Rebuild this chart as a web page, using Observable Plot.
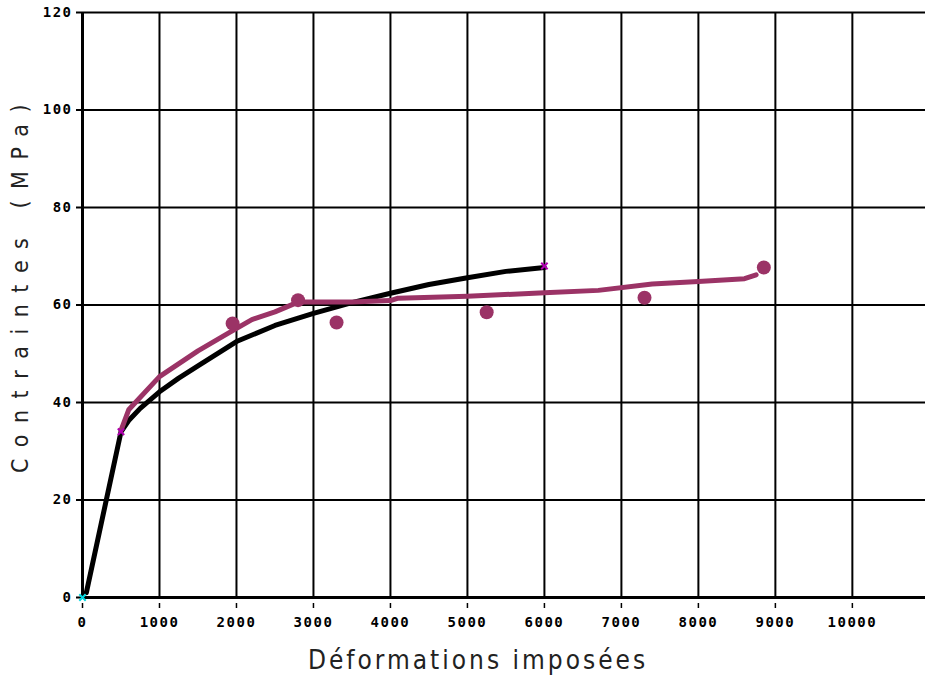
<!DOCTYPE html>
<html>
<head>
<meta charset="utf-8">
<script src="https://cdn.jsdelivr.net/npm/d3@7"></script>
<script src="https://cdn.jsdelivr.net/npm/@observablehq/plot@0.6"></script>
<style>
  body { margin: 0; background: #fff; }
  #chart svg { display: block; }
</style>
</head>
<body>
<div id="chart"></div>
<script>
// Tick values
const xTicks = [0, 1000, 2000, 3000, 4000, 5000, 6000, 7000, 8000, 9000, 10000];
const yTicks = [0, 20, 40, 60, 80, 100, 120];

// Black curve (computed / reference curve)
const blackX = [50, 500, 600, 750, 1000, 1250, 1500, 2000, 2500, 3000, 3500, 4000, 4500, 5000, 5500, 6000];
const blackY = [1, 34, 36.3, 38.8, 42.2, 45.0, 47.5, 52.5, 55.8, 58.3, 60.5, 62.4, 64.2, 65.6, 66.9, 67.7];

// Purple curve (measured)
const pinkX = [500, 600, 1000, 1500, 1900, 2200, 2500, 2800, 3500, 4000, 4100, 5000, 6000, 6700, 7400, 8000, 8600, 8750];
const pinkY = [34.3, 38.5, 45.3, 50.6, 54.3, 57.0, 58.6, 60.6, 60.6, 60.9, 61.4, 61.8, 62.5, 63.0, 64.3, 64.8, 65.4, 66.2];

// Purple point markers
const markX = [1950, 2800, 3300, 5250, 7300, 8850];
const markY = [56.2, 61.0, 56.4, 58.5, 61.5, 67.7];

// Small end markers
const endX = [500, 6000];
const endY = [34, 68];

const xTitle = "Déformations imposées";
const yTitle = "Contraintes (MPa)";

const black = blackX.map((x, i) => ({x, y: blackY[i]}));
const pink = pinkX.map((x, i) => ({x, y: pinkY[i]}));
const marks = markX.map((x, i) => ({x, y: markY[i]}));
const ends = endX.map((x, i) => ({x, y: endY[i]}));

const tickFont = {fontSize: 14, fontWeight: "bold", fontFamily: "DejaVu Sans Mono"};

const chart = Plot.plot({
  width: 925,
  height: 687,
  marginLeft: 82,
  marginRight: 0,
  marginTop: 12,
  marginBottom: 90,
  x: {domain: [0, 10950]},
  y: {domain: [0, 120]},
  style: {background: "#fff", color: "#000"},
  marks: [
    Plot.gridX(xTicks, {stroke: "#000", strokeOpacity: 1, strokeWidth: 2}),
    Plot.gridY(yTicks, {stroke: "#000", strokeOpacity: 1, strokeWidth: 2}),
    Plot.axisX(xTicks, {tickSize: 5, dy: 6, tickPadding: 9, label: null, tickFormat: d => String(d), ...tickFont, strokeWidth: 1.5}),
    Plot.axisY(yTicks, {tickSize: 6, tickPadding: 4, label: null, tickFormat: d => String(d), ...tickFont, strokeWidth: 2}),
    Plot.ruleY([0], {stroke: "#000", strokeWidth: 3}),
    Plot.ruleX([0], {stroke: "#000", strokeWidth: 3}),
    Plot.line(black, {x: "x", y: "y", stroke: "#000", strokeWidth: 5, curve: "linear"}),
    Plot.line(pink, {x: "x", y: "y", stroke: "#9b3366", strokeWidth: 5}),
    Plot.dot(marks, {x: "x", y: "y", r: 7, fill: "#9b3366", stroke: "none"}),
    Plot.dot(ends, {x: "x", y: "y", r: 3, symbol: "times", stroke: "#b000b0", strokeWidth: 2}),
    Plot.dot([{x: 0, y: 0}], {x: "x", y: "y", r: 3, symbol: "times", stroke: "#00d8e0", strokeWidth: 2}),
    Plot.text([xTitle], {frameAnchor: "bottom", text: d => d, dy: 71, dx: -26, fontSize: 26, fontFamily: "DejaVu Sans Condensed", fill: "#222"}),
    Plot.text([yTitle], {frameAnchor: "left", textAnchor: "middle", text: d => d, rotate: -90, dx: -62, dy: -22, fontSize: 23, fontFamily: "DejaVu Sans Condensed", fill: "#222"})
  ]
});

document.getElementById("chart").appendChild(chart);
d3.select(chart).selectAll("text").each(function() {
  const t = this.textContent;
  if (t === xTitle) d3.select(this).style("letter-spacing", "3px");
  else if (t === yTitle) d3.select(this).style("letter-spacing", "11.5px");
  else d3.select(this).style("letter-spacing", "1.5px");
});
</script>
</body>
</html>
